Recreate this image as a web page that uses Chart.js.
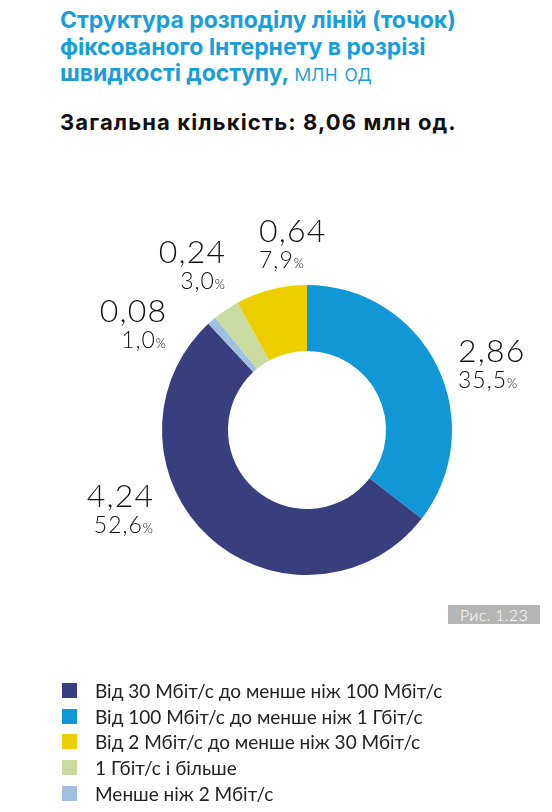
<!DOCTYPE html>
<html>
<head>
<meta charset="utf-8">
<script src="https://cdn.jsdelivr.net/npm/chart.js@4"></script>
<style>
  html, body { margin: 0; padding: 0; background: #fff; }
  body { width: 552px; height: 812px; position: relative; overflow: hidden; }
  #chart { position: absolute; left: 0; top: 0; }
  .title {
    position: absolute; left: 60px; top: 7px; width: 480px;
    font-family: Inter, sans-serif; font-weight: 700; font-size: 23px;
    line-height: 26.5px; color: #1a9ed9; letter-spacing: -0.05px;
  }
  .title span { font-weight: 300; }
  .subtitle {
    position: absolute; left: 60px; top: 109px;
    font-family: Inter, sans-serif; font-weight: 700; font-size: 22px; color: #111;
    letter-spacing: 1.1px;
  }
  .fig {
    position: absolute; left: 448px; top: 605px; width: 92px; height: 19px;
    background: #b5b5b5; color: #fff; font-family: Lato, sans-serif; font-weight: 300;
    font-size: 16px; line-height: 19px; text-align: center; letter-spacing: 0.3px;
  }
  #legend { position: absolute; left: 62px; top: 678px; font-family: Lato, sans-serif; font-size: 19px; color: #222; }
  #legend div { height: 25.6px; display: flex; align-items: center; }
  #legend i { display: inline-block; width: 15px; height: 15px; margin-right: 18px; }
</style>
</head>
<body>
<div class="title">Структура розподілу ліній (точок) фіксованого Інтернету в розрізі швидкості доступу, <span>млн од</span></div>
<div class="subtitle">Загальна кількість: 8,06 млн од.</div>
<canvas id="chart" width="552" height="812"></canvas>
<div class="fig">Рис. 1.23</div>
<div id="legend"></div>
<script>
// slices, clockwise from 12 o'clock
const categories = [
  "Від 100 Мбіт/с до менше ніж 1 Гбіт/с",
  "Від 30 Мбіт/с до менше ніж 100 Мбіт/с",
  "Менше ніж 2 Мбіт/с",
  "1 Гбіт/с і більше",
  "Від 2 Мбіт/с до менше ніж 30 Мбіт/с"
];
const values = [2.86, 4.24, 0.08, 0.24, 0.64];
const shares = [35.5, 52.6, 1.0, 3.0, 7.9];
const valueLabels = ["2,86", "4,24", "0,08", "0,24", "0,64"];
const shareLabels = ["35,5", "52,6", "1,0", "3,0", "7,9"];
const colors = ["#1197d5", "#383e7e", "#9fc0de", "#c9dba0", "#edcf00"];

// where each label sits, relative to the doughnut centre
const labelPlace = [
  { dx: 151, dy: -68, align: "left" },
  { dx: -154, dy: 77, align: "right" },
  { dx: -141, dy: -108, align: "right" },
  { dx: -82, dy: -167, align: "right" },
  { dx: -48, dy: -188, align: "left" }
];

const bigFont = "300 32px Lato, sans-serif";
const midFont = "300 23px Lato, sans-serif";
const smallFont = "300 13px Lato, sans-serif";

const labelPlugin = {
  id: "sliceLabels",
  afterDraw(chart) {
    const ctx = chart.ctx;
    const arc = chart.getDatasetMeta(0).data[0];
    const cx = arc.x, cy = arc.y;
    ctx.save();
    ctx.fillStyle = "#111";
    ctx.textBaseline = "alphabetic";
    valueLabels.forEach(function (txt, i) {
      const p = labelPlace[i];
      const x = cx + p.dx;
      ctx.letterSpacing = "1.2px";
      ctx.font = bigFont;
      const w1 = ctx.measureText(txt).width - 1.2;
      ctx.letterSpacing = "1px";
      ctx.font = midFont;
      const wp = ctx.measureText(shareLabels[i]).width;
      ctx.letterSpacing = "0px";
      ctx.font = smallFont;
      const wpc = ctx.measureText("%").width;
      const w2 = wp + wpc;
      const x1 = p.align === "left" ? x : x - w1;
      const x2 = p.align === "left" ? x : x - w2;
      ctx.letterSpacing = "1.2px";
      ctx.font = bigFont;
      ctx.fillText(txt, x1, cy + p.dy);
      ctx.letterSpacing = "1px";
      ctx.font = midFont;
      ctx.fillText(shareLabels[i], x2, cy + p.dy + 26);
      ctx.letterSpacing = "0px";
      ctx.font = smallFont;
      ctx.fillText("%", x2 + wp, cy + p.dy + 26);
    });
    ctx.restore();
  }
};

new Chart(document.getElementById("chart"), {
  type: "doughnut",
  data: {
    labels: categories,
    datasets: [{
      data: values,
      backgroundColor: colors,
      borderWidth: 0
    }]
  },
  options: {
    responsive: false,
    animation: false,
    cutout: "54.5%",
    layout: { padding: { left: 162, right: 100, top: 285, bottom: 237 } },
    plugins: { legend: { display: false }, tooltip: { enabled: false } }
  },
  plugins: [labelPlugin]
});

// legend, biggest share first
const order = values.map(function (v, i) { return i; }).sort(function (a, b) { return values[b] - values[a]; });
const legend = document.getElementById("legend");
order.forEach(function (i) {
  const row = document.createElement("div");
  row.innerHTML = '<i style="background:' + colors[i] + '"></i>' + categories[i];
  legend.appendChild(row);
});
</script>
</body>
</html>
